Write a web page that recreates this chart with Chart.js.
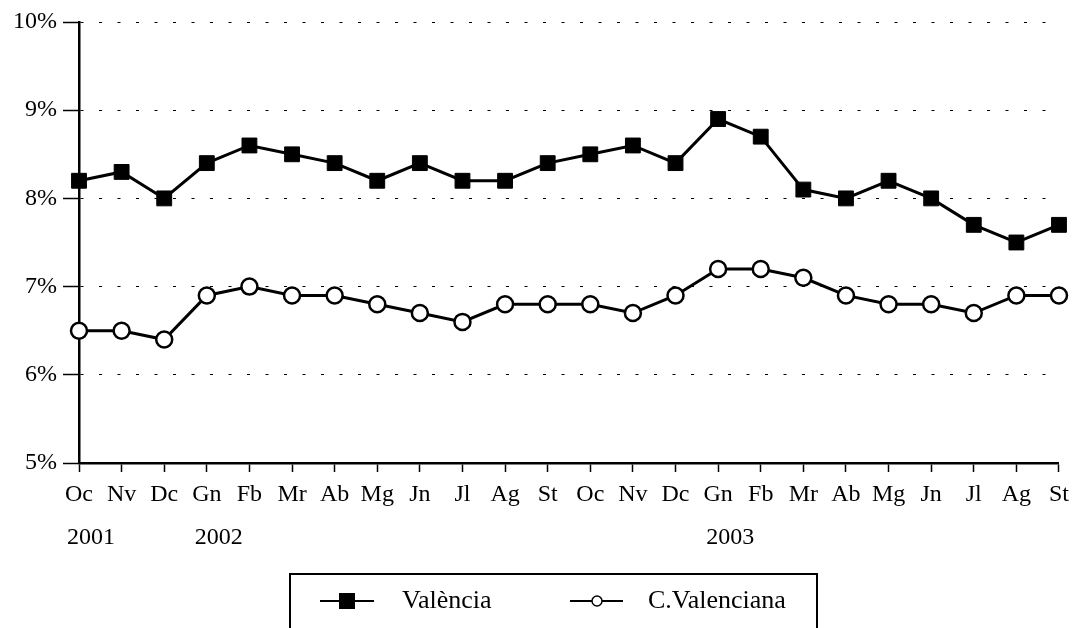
<!DOCTYPE html>
<html>
<head>
<meta charset="utf-8">
<script src="https://cdn.jsdelivr.net/npm/chart.js@4/dist/chart.umd.min.js"></script>
<style>
  html, body { margin: 0; padding: 0; background: #fff; }
  #wrap { width: 1077px; height: 628px; }
</style>
</head>
<body>
<div id="wrap"><canvas id="rateChart" width="1077" height="628"></canvas></div>
<script>
// Months (Catalan abbreviations), Oct 2001 - Sep 2003
const MONTHS = ['Oc', 'Nv', 'Dc', 'Gn', 'Fb', 'Mr', 'Ab', 'Mg', 'Jn', 'Jl', 'Ag', 'St',
                'Oc', 'Nv', 'Dc', 'Gn', 'Fb', 'Mr', 'Ab', 'Mg', 'Jn', 'Jl', 'Ag', 'St'];
// year label under the month where it starts
const YEAR_LABELS = [['2001', 0], ['2002', 3], ['2003', 15]];

const VALENCIA = [8.2, 8.3, 8.0, 8.4, 8.6, 8.5, 8.4, 8.2, 8.4, 8.2, 8.2, 8.4,
                  8.5, 8.6, 8.4, 8.9, 8.7, 8.1, 8.0, 8.2, 8.0, 7.7, 7.5, 7.7];
const C_VALENCIANA = [6.5, 6.5, 6.4, 6.9, 7.0, 6.9, 6.9, 6.8, 6.7, 6.6, 6.8, 6.8,
                      6.8, 6.7, 6.9, 7.2, 7.2, 7.1, 6.9, 6.8, 6.8, 6.7, 6.9, 6.9];
const SERIES_NAMES = ['València', 'C.Valenciana'];

const FONT = '"Liberation Serif", "Times New Roman", serif';

// year labels below the month ticks
const yearLabels = {
    id: 'yearLabels',
    afterDraw(chart) {
        const ctx = chart.ctx;
        const x = chart.scales.x;
        ctx.save();
        ctx.font = '24px ' + FONT;
        ctx.fillStyle = '#000';
        ctx.textAlign = 'center';
        ctx.textBaseline = 'middle';
        YEAR_LABELS.forEach(([txt, idx]) => {
            ctx.fillText(txt, x.getPixelForValue(idx) + 12, 538);
        });
        ctx.restore();
    }
};

// boxed legend with line + marker samples
const boxLegend = {
    id: 'boxLegend',
    afterDraw(chart) {
        const ctx = chart.ctx;
        const y = 601;
        ctx.save();
        ctx.strokeStyle = '#000';
        ctx.lineWidth = 2;
        ctx.strokeRect(290, 574, 527, 80);

        ctx.lineWidth = 2;
        ctx.beginPath();
        ctx.moveTo(320, y); ctx.lineTo(374, y);
        ctx.moveTo(570, y); ctx.lineTo(623, y);
        ctx.stroke();

        ctx.fillStyle = '#000';
        ctx.fillRect(339, y - 8, 16, 16);

        ctx.beginPath();
        ctx.arc(597, y, 5, 0, Math.PI * 2);
        ctx.fillStyle = '#fff';
        ctx.fill();
        ctx.lineWidth = 1.5;
        ctx.stroke();

        ctx.fillStyle = '#000';
        ctx.font = '26px ' + FONT;
        ctx.textAlign = 'left';
        ctx.textBaseline = 'middle';
        ctx.fillText(SERIES_NAMES[0], 402, y);
        ctx.fillText(SERIES_NAMES[1], 648, y);
        ctx.restore();
    }
};

const ctx = document.getElementById('rateChart').getContext('2d');
new Chart(ctx, {
    type: 'line',
    data: {
        labels: MONTHS,
        datasets: [
            {
                label: SERIES_NAMES[0],
                data: VALENCIA,
                borderColor: '#000',
                borderWidth: 3,
                backgroundColor: '#000',
                pointStyle: 'rect',
                pointRadius: 10.5,
                pointBorderWidth: 1,
                pointBackgroundColor: '#000',
                pointBorderColor: '#000',
                tension: 0
            },
            {
                label: SERIES_NAMES[1],
                data: C_VALENCIANA,
                borderColor: '#000',
                borderWidth: 3,
                backgroundColor: '#fff',
                pointStyle: 'circle',
                pointRadius: 8,
                pointBorderWidth: 2.5,
                pointBackgroundColor: '#fff',
                pointBorderColor: '#000',
                tension: 0
            }
        ]
    },
    options: {
        responsive: false,
        animation: false,
        layout: { padding: { top: 22, right: 15, left: 0, bottom: 0 } },
        plugins: {
            legend: { display: false },
            tooltip: { enabled: false }
        },
        scales: {
            x: {
                offset: false,
                afterFit: (scale) => { scale.height = 165; },
                grid: {
                    drawOnChartArea: false,
                    drawTicks: true,
                    tickLength: 9,
                    tickColor: '#000',
                    tickWidth: 1.5
                },
                border: { display: true, color: '#000', width: 2.5 },
                ticks: {
                    color: '#000',
                    font: { family: FONT, size: 24 },
                    padding: 8,
                    maxRotation: 0,
                    autoSkip: false
                }
            },
            y: {
                min: 5,
                max: 10,
                afterFit: (scale) => { scale.width = 79; },
                grid: {
                    color: '#000',
                    lineWidth: 1,
                    drawTicks: true,
                    tickLength: 16,
                    tickColor: '#000',
                    tickWidth: 1.5,
                    tickBorderDash: []
                },
                border: { display: true, color: '#000', width: 2.5, dash: [3, 15.5] },
                ticks: {
                    stepSize: 1,
                    color: '#000',
                    font: { family: FONT, size: 24 },
                    padding: 6,
                    callback: (v) => v + '%'
                }
            }
        }
    },
    plugins: [yearLabels, boxLegend]
});
</script>
</body>
</html>
